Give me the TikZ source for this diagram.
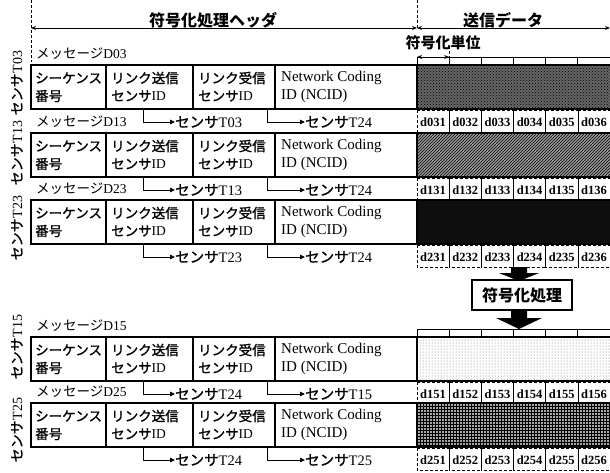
\documentclass[tikz,border=0pt]{standalone}
\usepackage{fontspec}
\setmainfont{Liberation Serif}
\newfontfamily\jp{Noto Sans CJK JP}
\newfontfamily\jpm[FakeBold=1.2]{Noto Sans CJK JP}
\newcommand\J[1]{{\jp #1}}
\newcommand\JM[1]{{\jpm #1}}
\usetikzlibrary{patterns,arrows.meta}
\begin{document}
\begin{tikzpicture}[x=1pt,y=-1pt,
  rowbox/.style={line width=2.4pt},
  divider/.style={line width=1.5pt},
  celltxt/.style={inner sep=0pt,anchor=west,font=\fontsize{13.5}{15}\selectfont},
  ncidtxt/.style={inner sep=0pt,anchor=west,font=\fontsize{15}{16}\selectfont},
  msgtxt/.style={inner sep=0pt,anchor=west,font=\fontsize{13.5}{15}\selectfont},
  arrtxt/.style={inner sep=0pt,anchor=west,font=\fontsize{14.5}{16}\selectfont},
  dtxt/.style={inner sep=0pt,font=\bfseries\fontsize{12.5}{14}\selectfont},
  sidetxt/.style={inner sep=0pt,rotate=90,font=\fontsize{14}{15}\selectfont},
  headtxt/.style={inner sep=0pt,font=\bfseries\fontsize{16}{18}\selectfont},
  dcell/.style={densely dashed,line width=0.7pt},
  tick/.style={line width=0.9pt},
  link/.style={line width=1pt,-{Triangle[length=5pt,width=4.5pt]}},
  span/.style={line width=1pt,{Stealth[length=5pt,width=4pt]}-{Stealth[length=5pt,width=4pt]}},
  pone/.style={fill=black!60,postaction={pattern=crosshatch dots,pattern color=black}},
  ptwo/.style={fill=black!40,postaction={pattern=north east lines,pattern color=black}},
  pthree/.style={fill=black!94},
  pfour/.style={fill=white,postaction={pattern=dots,pattern color=black!55}},
  pfive/.style={fill=black!35,postaction={pattern=grid,pattern color=black}},
  blockarrow/.style={fill=black}
]
\useasboundingbox (0,0) rectangle (610,472);

% header
\node[headtxt] (hdr) at (213,20) {\J{符号化処理ヘッダ}};
\node[headtxt] (sdata) at (503,20) {\J{送信データ}};
\node[headtxt,font=\bfseries\fontsize{15}{17}\selectfont] (unit) at (443,43) {\J{符号化単位}};
\coordinate (hl) at (31,28);
\coordinate (hm) at (417,28);
\coordinate (hr) at (610,28);
\draw[span] (hl) -- (hm);
\draw[span] (hm) -- (hr);
\draw[densely dashed,line width=0.7pt] (31,0) -- (31,62);
\draw[densely dashed,line width=0.7pt] (417,0) -- (hm);
\draw[densely dashed,line width=0.7pt] (449,46) -- (449,57);

% tick rows above data
\foreach \ty in {65,337}{
  \draw[tick] (417,\ty-8) -- (612,\ty-8);
  \foreach \i in {0,...,6}{
    \draw[tick] (417+\i*32.17,\ty-8) -- (417+\i*32.17,\ty);
  }
}
\coordinate (ua) at (417,57);
\coordinate (ub) at (449.17,57);
\draw[span] (ua) -- (ub);

% rows
\foreach \r/\t/\pat/\code/\sA/\sB/\yc in {1/65/pone/03/03/24/83, 2/133/ptwo/13/13/24/153, 3/200/pthree/23/23/24/228, 4/337/pfour/15/24/15/347, 5/403/pfive/25/24/25/430}{
  \fill[\pat] (417,\t) rectangle (613,\t+44);
  \draw[divider] (106,\t) -- (106,\t+44);
  \draw[divider] (193,\t) -- (193,\t+44);
  \draw[divider] (275,\t) -- (275,\t+44);
  \draw[rowbox] (417,\t) -- (417,\t+44);
  \draw[rowbox] (31,\t) rectangle (614,\t+44);
  \node[celltxt] (seq\r) at (35,\t+13) {\JM{シーケンス}};
  \node[celltxt] (num\r) at (35,\t+31) {\JM{番号}};
  \node[celltxt] (snd\r) at (111,\t+13) {\JM{リンク送信}};
  \node[celltxt] (sid\r) at (111,\t+31) {\JM{センサ}ID};
  \node[celltxt] (rcv\r) at (198,\t+13) {\JM{リンク受信}};
  \node[celltxt] (rid\r) at (198,\t+31) {\JM{センサ}ID};
  \node[ncidtxt] (nc\r) at (281,\t+13) {Network Coding};
  \node[ncidtxt] (ni\r) at (281,\t+31) {ID (NCID)};
  % message label and side label
  \node[msgtxt] (msg\r) at (36,\t-11) {\J{メッセージ}D\code};
  \node[sidetxt] (side\r) at (17,\yc) {\JM{センサ}T\code};
  % link arrows
  \coordinate (la\r) at (143,\t+45);
  \coordinate (lb\r) at (267,\t+45);
  \node[arrtxt] (ta\r) at (175,\t+57) {\JM{センサ}T\sA};
  \node[arrtxt] (tb\r) at (305,\t+57) {\JM{センサ}T\sB};
  \draw[link] (la\r) |- (ta\r.west);
  \draw[link] (lb\r) |- (tb\r.west);
  % data cells
  \foreach \i in {1,...,6}{
    \draw[dcell] (417+\i*32.17-32.17,\t+45) rectangle (417+\i*32.17,\t+67);
    \node[dtxt] (d\r\i) at (417+\i*32.17-16.08,\t+57) {d\code\i};
  }
}

% encoding step
\node[draw,line width=2pt,minimum width=100pt,minimum height=30pt,inner sep=0pt,
  font=\bfseries\fontsize{16}{18}\selectfont] (enc) at (522,295) {\J{符号化処理}};
\fill[blockarrow] (511,267) -- (527,267) -- (527,273) -- (539,273) -- (519,281) -- (499,273) -- (511,273) -- cycle;
\fill[blockarrow] (511,310) -- (527,310) -- (527,318) -- (542,318) -- (519,329) -- (496,318) -- (511,318) -- cycle;
\end{tikzpicture}
\end{document}
